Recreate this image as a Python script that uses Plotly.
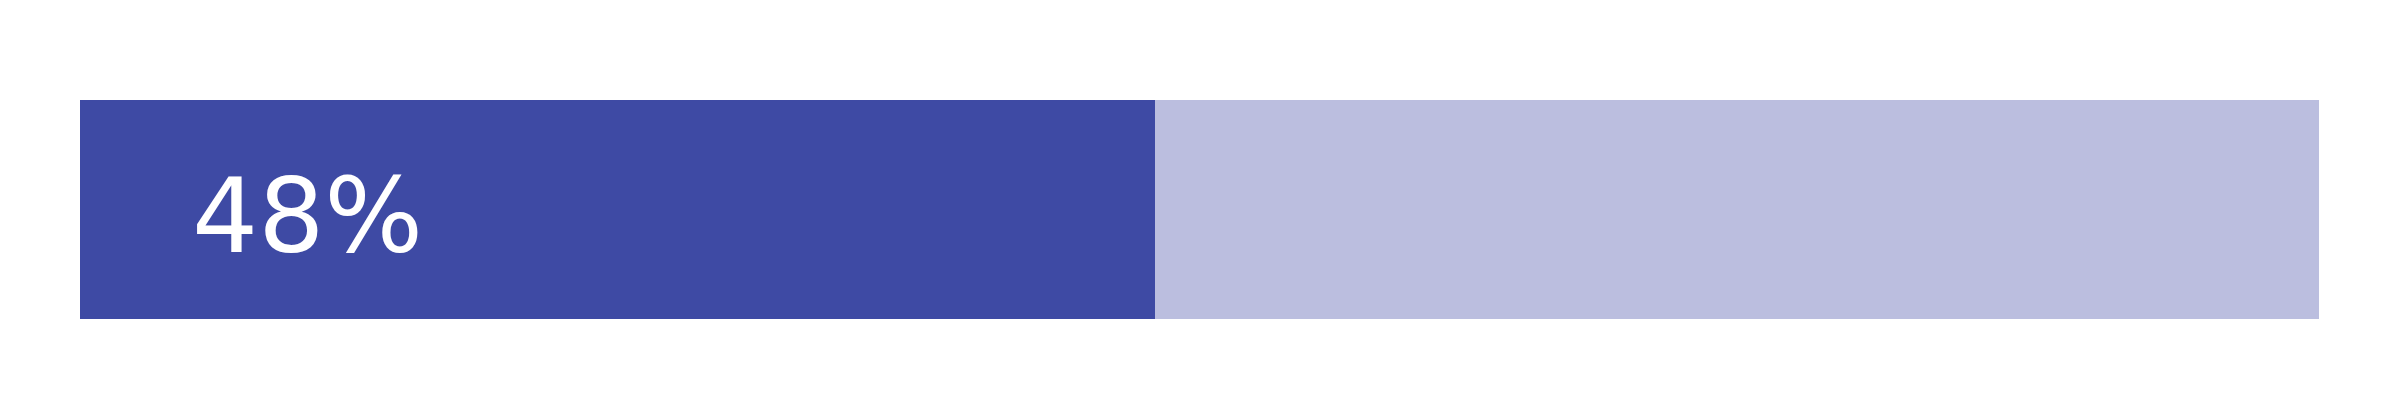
import plotly.graph_objects as go

categories = ["progress"]
filled_values = [48]
remaining_values = [52]
label_text = ["48%"]

fig = go.Figure()
fig.add_trace(go.Bar(y=categories, x=filled_values, orientation="h",
                     marker=dict(color="#3E4AA4", line=dict(width=0)), hoverinfo="skip"))
fig.add_trace(go.Bar(y=categories, x=remaining_values, orientation="h",
                     marker=dict(color="#BBBEDF", line=dict(width=0)), hoverinfo="skip"))

fig.add_annotation(x=4.9, y=0, xref="x", yref="y", text=label_text[0],
                   showarrow=False, xanchor="left", yanchor="middle", yshift=-6,
                   font=dict(family="Verdana, DejaVu Sans", size=104, color="white"))

fig.update_layout(
    barmode="stack", bargap=0, showlegend=False,
    width=2400, height=400,
    margin=dict(l=72, r=89, t=92, b=89),
    paper_bgcolor="white", plot_bgcolor="white",
    xaxis=dict(range=[0, 100], visible=False, fixedrange=True),
    yaxis=dict(range=[-0.5, 0.5], visible=False, fixedrange=True),
)
fig.write_html("out.html")
